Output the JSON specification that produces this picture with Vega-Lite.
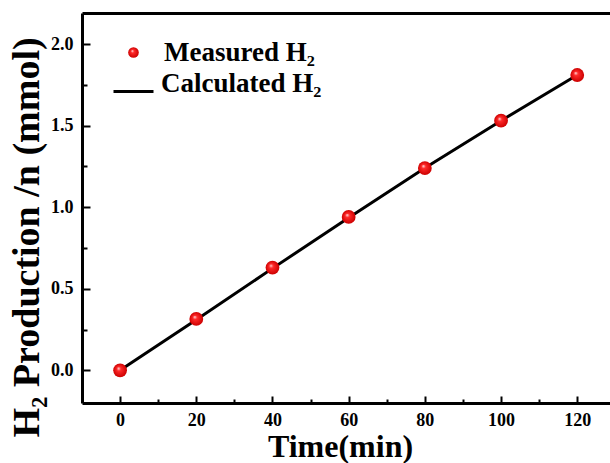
{
  "$schema": "https://vega.github.io/schema/vega-lite/v6.json",
  "autosize": {"type": "none"},
  "width": 528,
  "height": 390,
  "padding": {"left": 82, "top": 13, "right": 0, "bottom": 60},
  "background": "white",
  "config": {
    "view": {"stroke": null},
    "axis": {"grid": false, "domainColor": "black", "tickColor": "black", "labelColor": "black", "titleColor": "black",
      "labelFont": "Liberation Serif", "titleFont": "Liberation Serif", "labelFontWeight": "bold", "titleFontWeight": "bold", "labelFontSize": 18},
    "legend": {"labelFont": "Liberation Serif", "labelFontWeight": "bold", "labelFontSize": 27, "labelColor": "black", "padding": 0, "rowPadding": 0, "labelLimit": 400}
  },
  "datasets": {
    "measured": [
      {"t": 0, "h2": 0.0, "series": "Measured H₂"},
      {"t": 20, "h2": 0.315, "series": "Measured H₂"},
      {"t": 40, "h2": 0.63, "series": "Measured H₂"},
      {"t": 60, "h2": 0.94, "series": "Measured H₂"},
      {"t": 80, "h2": 1.24, "series": "Measured H₂"},
      {"t": 100, "h2": 1.53, "series": "Measured H₂"},
      {"t": 120, "h2": 1.81, "series": "Measured H₂"}
    ],
    "calculated": [
      {"t": 0, "h2": 0.0, "series": "Calculated H₂"},
      {"t": 20, "h2": 0.31, "series": "Calculated H₂"},
      {"t": 40, "h2": 0.625, "series": "Calculated H₂"},
      {"t": 60, "h2": 0.935, "series": "Calculated H₂"},
      {"t": 80, "h2": 1.24, "series": "Calculated H₂"},
      {"t": 100, "h2": 1.53, "series": "Calculated H₂"},
      {"t": 120, "h2": 1.81, "series": "Calculated H₂"}
    ]
  },
  "resolve": {"axis": {"x": "independent", "y": "independent"}},
  "layer": [
    {
      "data": {"name": "calculated"},
      "mark": {"type": "line", "strokeWidth": 3},
      "encoding": {
        "x": {"field": "t", "type": "quantitative",
          "scale": {"domain": [-10, 128.6], "nice": false, "zero": false},
          "axis": {"orient": "bottom", "values": [0, 10, 20, 30, 40, 50, 60, 70, 80, 90, 100, 110, 120],
            "labelExpr": "datum.value % 20 === 0 ? datum.label : ''",
            "tickSize": {"condition": {"test": "datum.value % 20 === 0", "value": -7}, "value": -4},
            "tickWidth": 2, "domainWidth": 3, "labelPadding": 15,
            "title": "Time(min)", "titleFontSize": 32, "titleX": 258, "titleY": 53, "titleBaseline": "alphabetic", "titleAlign": "center"}},
        "y": {"field": "h2", "type": "quantitative",
          "scale": {"domain": [-0.2, 2.19], "nice": false, "zero": false},
          "axis": {"orient": "left", "values": [0, 0.25, 0.5, 0.75, 1, 1.25, 1.5, 1.75, 2],
            "labelExpr": "(datum.value * 4) % 2 === 0 ? format(datum.value, '.1f') : ''",
            "tickSize": {"condition": {"test": "(datum.value * 4) % 2 === 0", "value": -8}, "value": -5},
            "tickWidth": 2, "domainWidth": 3, "labelPadding": 17,
            "title": "H₂ Production /n (mmol)", "titleFontSize": 38, "titleX": -44, "titleY": 224, "titleBaseline": "alphabetic", "titleAlign": "center", "titleAngle": -90}},
        "color": {"field": "series", "type": "nominal",
          "scale": {"domain": ["Calculated H₂"], "range": ["black"]},
          "legend": {"orient": "none", "legendX": 30, "legendY": 57, "title": null, "labelBaseline": "alphabetic",
            "symbolType": "stroke", "symbolSize": 1600, "symbolStrokeWidth": 3, "symbolStrokeColor": "black", "labelOffset": 6}}
      }
    },
    {
      "data": {"name": "measured"},
      "mark": {"type": "point", "filled": true, "size": 190, "opacity": 1,
        "fill": {"gradient": "radial", "x1": 0.38, "y1": 0.35, "r1": 0, "x2": 0.5, "y2": 0.5, "r2": 0.5,
          "stops": [{"offset": 0, "color": "#ffe6e6"}, {"offset": 0.3, "color": "#ff2a2a"}, {"offset": 1, "color": "#cc0000"}]}},
      "encoding": {
        "x": {"field": "t", "type": "quantitative", "axis": null},
        "y": {"field": "h2", "type": "quantitative", "axis": null},
        "shape": {"field": "series", "type": "nominal",
          "scale": {"domain": ["Measured H₂"], "range": ["circle"]},
          "legend": {"orient": "none", "legendX": 38, "legendY": 26, "title": null, "symbolSize": 113, "symbolOpacity": 1, "labelOffset": 17}}
      }
    },
    {
      "data": {"name": "calculated"},
      "mark": {"type": "point", "opacity": 0},
      "encoding": {
        "x": {"field": "t", "type": "quantitative",
          "axis": {"orient": "top", "ticks": false, "labels": false, "title": null, "domainWidth": 3}},
        "y": {"field": "h2", "type": "quantitative", "axis": null}
      }
    }
  ]
}
